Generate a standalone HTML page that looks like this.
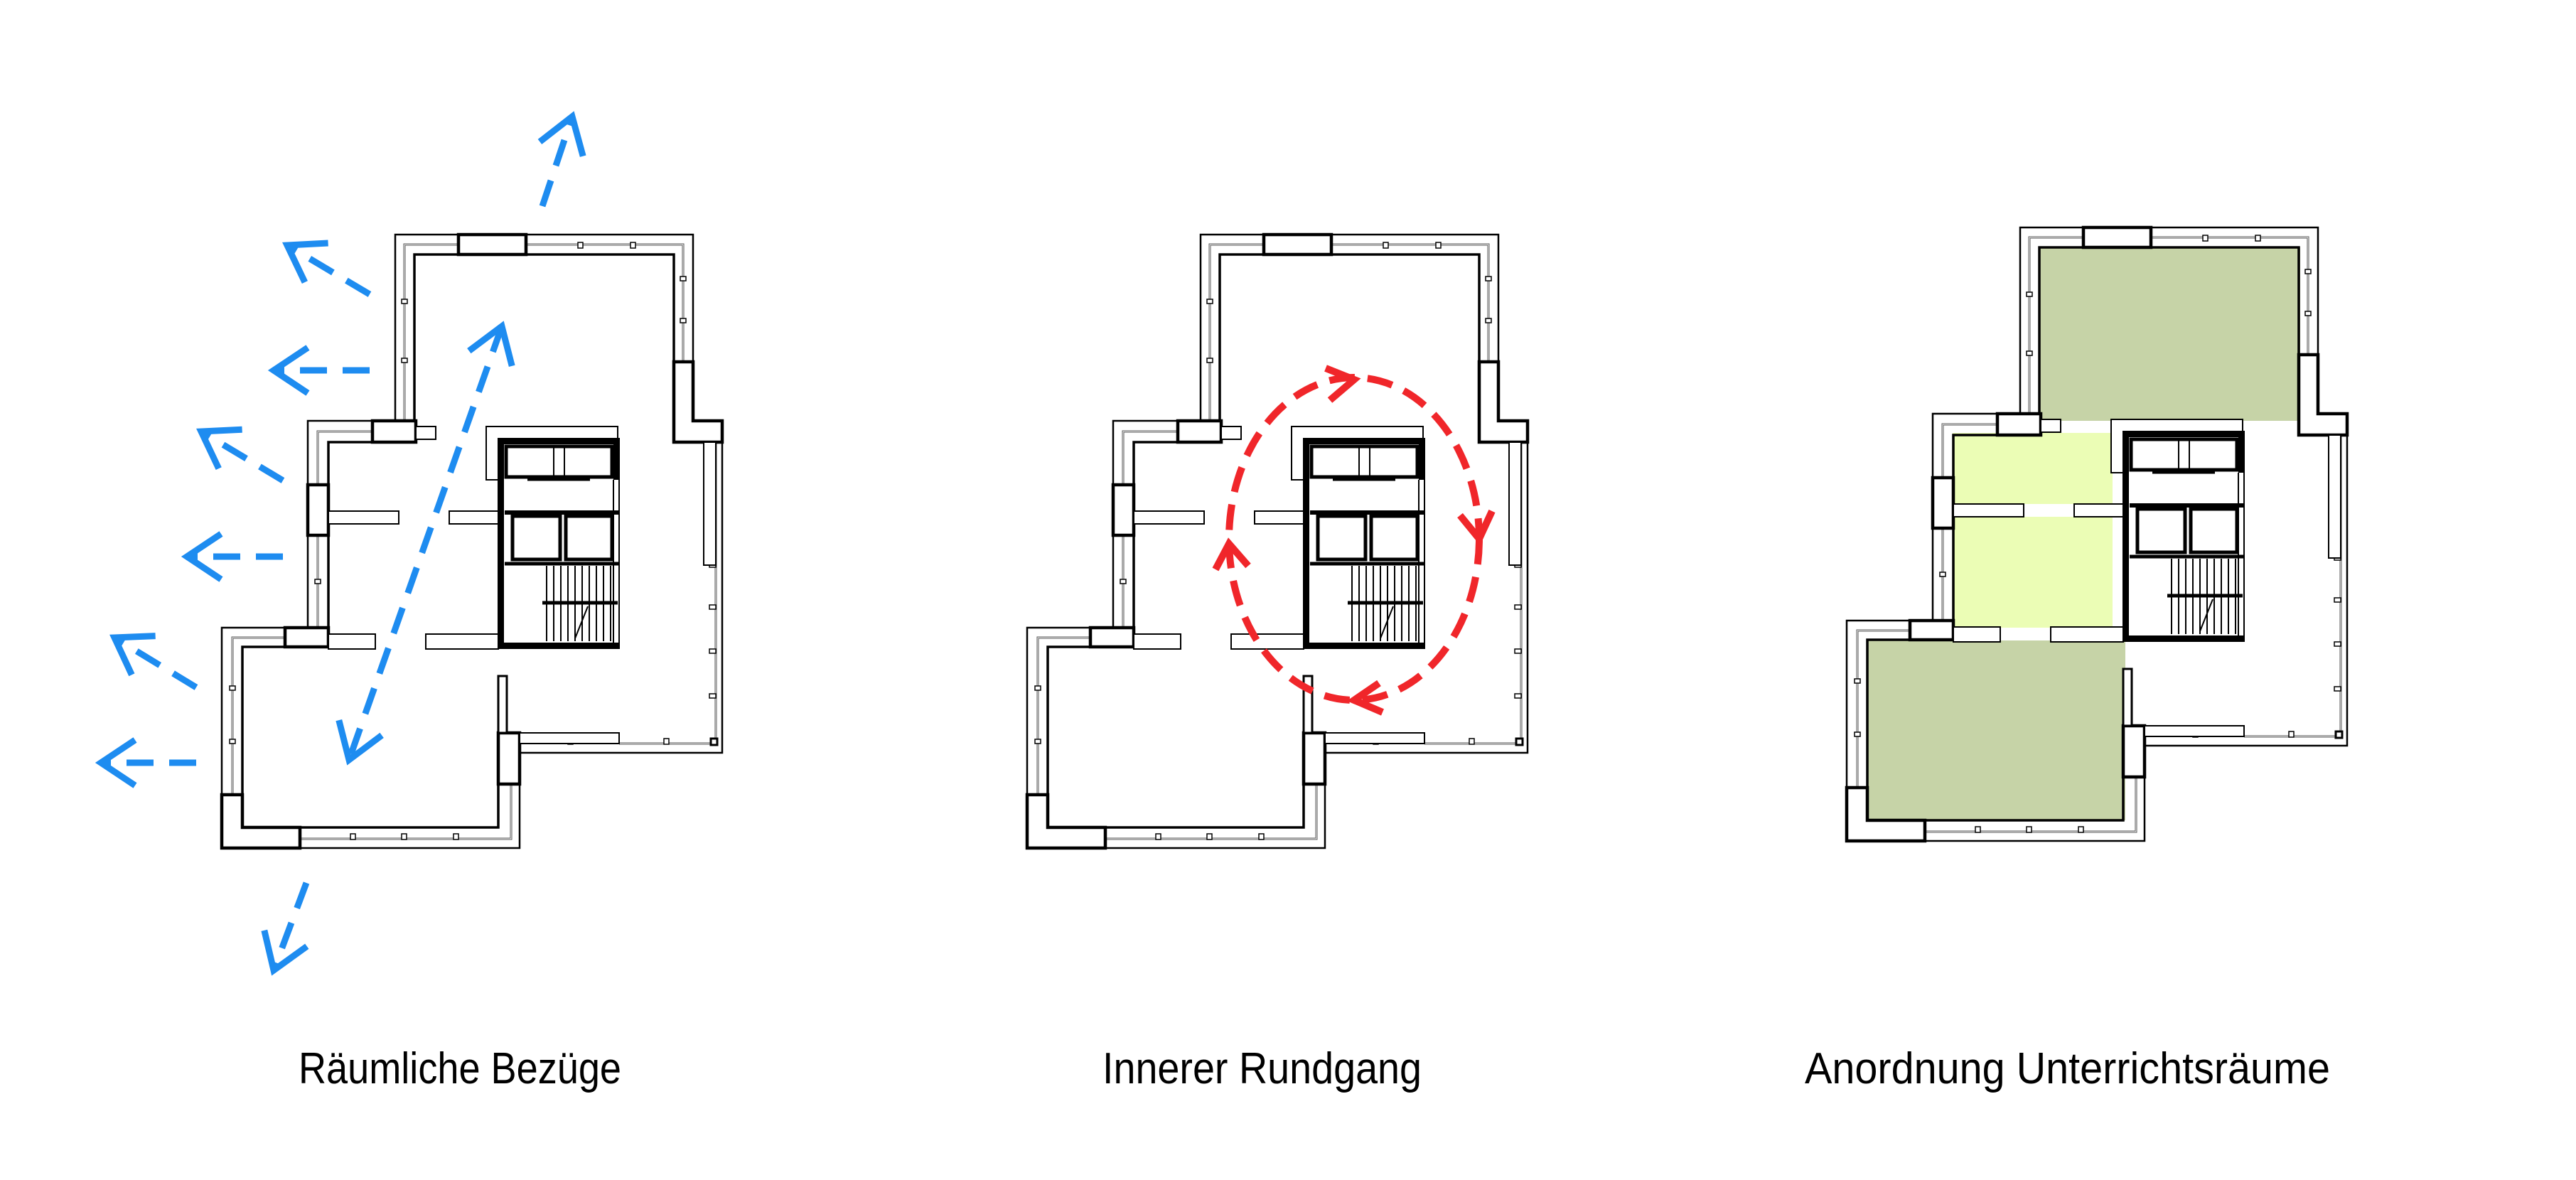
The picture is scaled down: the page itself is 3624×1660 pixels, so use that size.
<!DOCTYPE html>
<html><head><meta charset="utf-8"><style>
html,body{margin:0;padding:0;background:#fff;}
svg{display:block;}
</style></head><body>
<svg width="3624" height="1660" viewBox="0 0 3624 1660" xmlns="http://www.w3.org/2000/svg">
<defs>
<marker id="bh" markerUnits="userSpaceOnUse" viewBox="-70 -45 80 90" markerWidth="80" markerHeight="90" refX="0" refY="0" orient="auto-start-reverse">
<path d="M-48,-32 L0,0 L-48,32" fill="none" stroke="#1E8CF0" stroke-width="9"/>
</marker>
<g id="plan" fill="none" stroke="#000">
<path d="M1689,592 V330 H2108 V509 M2149,622 V1059 H1864 V1193 H1555 M1445,1118 V883 H1566 V592 H1689" stroke-width="2.5"/>
<path d="M1716,592 V358 H1778 M1873,358 H2081 V509 M1474,1118 V910 H1534 M1595,910 V753 M1595,682 V622 H1657 M1555,1164 H1834 V1103" stroke-width="3.5"/>
<path d="M1702,592 V344 H1778 M1873,344 H2094 V509 M2140,622 V1046 H2004 M1852,1103 V1180 H1555 M1460,1118 V897 H1534 M1580,883 V753 M1580,682 V607 H1657" stroke-width="3" stroke="#555"/>
<path d="M1702,592 V344 H1778 M1873,344 H2094 V509 M2140,622 V1046 H2004 M1852,1103 V1180 H1555 M1460,1118 V897 H1534 M1580,883 V753 M1580,682 V607 H1657" stroke-width="1" stroke="#fff"/>
<g fill="#fff" stroke-width="1.5">
<rect x="1946" y="341" width="7" height="8"/><rect x="2020" y="341" width="7" height="8"/>
<rect x="1698" y="421" width="8" height="6"/><rect x="1698" y="504" width="8" height="6"/>
<rect x="2090" y="389" width="8" height="6"/><rect x="2090" y="448" width="8" height="6"/>
<rect x="2131" y="675" width="9" height="6"/><rect x="2131" y="734" width="9" height="6"/><rect x="2131" y="792" width="9" height="6"/>
<rect x="2131" y="851" width="9" height="6"/><rect x="2131" y="913" width="9" height="6"/><rect x="2131" y="976" width="9" height="6"/>
<rect x="1932" y="1039" width="7" height="8"/><rect x="2067" y="1039" width="7" height="8"/>
<rect x="1626" y="1173" width="7" height="8"/><rect x="1698" y="1173" width="7" height="8"/><rect x="1771" y="1173" width="7" height="8"/>
<rect x="1456" y="965" width="8" height="6"/><rect x="1456" y="1040" width="8" height="6"/>
<rect x="1576" y="815" width="8" height="6"/>
<rect x="2133" y="1039" width="9" height="9" stroke-width="3"/>
</g>
<g fill="#fff" stroke-width="4.5">
<rect x="1778" y="330" width="95" height="28"/>
<path d="M2081,509 H2108 V592 H2149 V622 H2081 Z"/>
<rect x="1834" y="1031" width="30" height="72"/>
<rect x="1834" y="951" width="12" height="80" stroke-width="3"/>
<path d="M1445,1118 H1474 V1164 H1555 V1193 H1445 Z"/>
<rect x="1534" y="883" width="61" height="27"/>
<rect x="1566" y="682" width="29" height="71"/>
<rect x="1657" y="592" width="61" height="30"/>
</g>
<g fill="#fff" stroke-width="2">
<rect x="2123" y="622" width="17" height="173"/>
<rect x="1864" y="1031" width="140" height="15"/>
<rect x="1718" y="600" width="28" height="18"/>
<rect x="1595" y="719" width="99" height="18"/>
<rect x="1765" y="719" width="69" height="18"/>
<rect x="1595" y="892" width="66" height="21"/>
<rect x="1732" y="892" width="102" height="21"/>
<rect x="1817" y="600" width="185" height="75"/>
</g>
<rect x="1834" y="617" width="170" height="295" fill="#fff" stroke-width="2"/>
<path d="M1838,617 V912 M1834,621 H2004 M1834,908 H2004 M2000,617 V675" stroke-width="8"/>
<rect x="1845" y="628" width="149" height="43" stroke-width="5"/>
<path d="M1912,628 V671 M1927,628 V671" stroke-width="2"/>
<path d="M1875,673 H1963" stroke-width="7"/>
<path d="M1843,721 H2004" stroke-width="6"/>
<rect x="1854" y="726" width="67" height="61" stroke-width="5"/>
<rect x="1929" y="726" width="65" height="61" stroke-width="5"/>
<path d="M1843,793 H2004" stroke-width="5"/>
<path d="M1996,675 V912" stroke-width="2"/>
<g stroke-width="2">
<path d="M1902,796 V902 M1912,796 V902 M1922,796 V902 M1932,796 V902 M1942,796 V902 M1952,796 V902 M1962,796 V902 M1972,796 V902 M1982,796 V902 M1992,796 V902"/>
<path d="M1960,853 L1942,898"/>
</g>
<path d="M1896,848 H2002" stroke-width="5"/>
</g>
</defs>

<g transform="translate(1153,-10)">
<rect x="1716" y="358" width="367" height="244" fill="#C6D3A7"/>
<rect x="1594" y="619" width="225" height="100" fill="#EBFDB5"/>
<rect x="1594" y="737" width="225" height="156" fill="#EBFDB5"/>
<rect x="1474" y="911" width="363" height="253" fill="#C6D3A7"/>
</g>

<use href="#plan" transform="translate(-1133,0)"/>
<use href="#plan"/>
<use href="#plan" transform="translate(1153,-10)"/>

<g stroke="#1E8CF0" stroke-width="9" fill="none" stroke-dasharray="38 22">
<line x1="763" y1="290" x2="805" y2="164" marker-end="url(#bh)"/>
<line x1="520" y1="414" x2="404" y2="345" marker-end="url(#bh)"/>
<line x1="520" y1="521" x2="385" y2="521" marker-end="url(#bh)"/>
<line x1="398" y1="676" x2="283" y2="607" marker-end="url(#bh)"/>
<line x1="398" y1="783" x2="263" y2="783" marker-end="url(#bh)"/>
<line x1="276" y1="967" x2="161" y2="897" marker-end="url(#bh)"/>
<line x1="276" y1="1073" x2="142" y2="1073" marker-end="url(#bh)"/>
<line x1="431" y1="1242" x2="385" y2="1365" marker-end="url(#bh)"/>
<line x1="706" y1="459" x2="491" y2="1069" marker-end="url(#bh)" marker-start="url(#bh)"/>
</g>

<g stroke="#F0262A" stroke-width="10" fill="none">
<ellipse cx="1905" cy="758" rx="176" ry="227" stroke-dasharray="36 18"/>
<path d="M1865,518 L1905,534 L1871,563"/>
<path d="M2054,725 L2081,758 L2099,719"/>
<path d="M1940,961 L1905,985 L1945,1002"/>
<path d="M1710,801 L1729,765 L1756,796"/>
</g>

<g font-family="'Liberation Sans', sans-serif" font-size="62" fill="#000">
<text x="420" y="1524" textLength="454" lengthAdjust="spacingAndGlyphs">Räumliche Bezüge</text>
<text x="1551" y="1524" textLength="449" lengthAdjust="spacingAndGlyphs">Innerer Rundgang</text>
<text x="2539" y="1524" textLength="739" lengthAdjust="spacingAndGlyphs">Anordnung Unterrichtsräume</text>
</g>
</svg>
</body></html>
